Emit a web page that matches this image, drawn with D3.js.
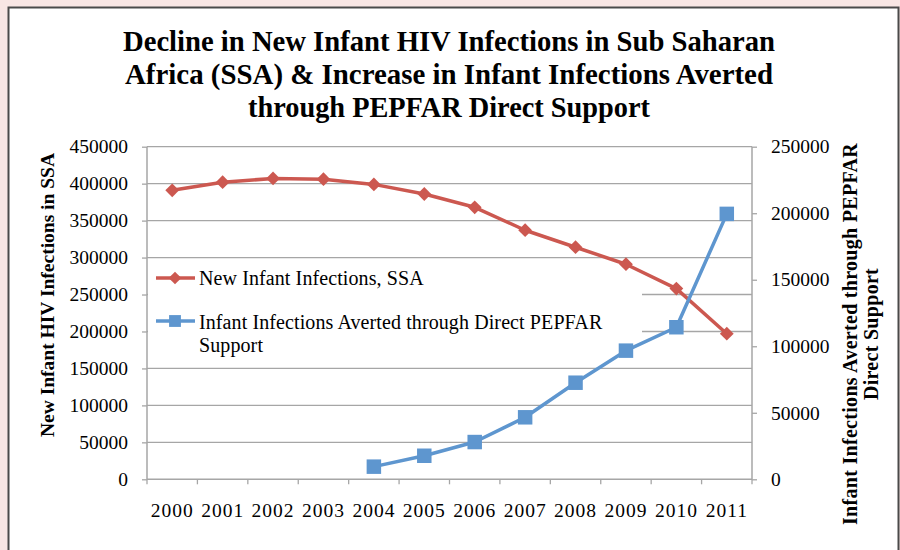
<!DOCTYPE html>
<html>
<head>
<meta charset="utf-8">
<script src="https://cdn.jsdelivr.net/npm/d3@7"></script>
<style>
    body { margin: 0; background: #f8e6e4; }
    svg { display: block; }
    text { font-family: "Liberation Serif", "DejaVu Serif", serif; fill: #000; }
</style>
</head>
<body>
<div id="chart"></div>
<script>
const years = ['2000', '2001', '2002', '2003', '2004', '2005', '2006', '2007', '2008', '2009', '2010', '2011'];
const newInfections = [391000, 402000, 407000, 406000, 399000, 386000, 368000, 337000, 314000, 291000, 258000, 197000];
const avertedYears = ['2004', '2005', '2006', '2007', '2008', '2009', '2010', '2011'];
const averted = [9500, 17700, 28000, 46600, 72600, 96700, 114300, 199500];
const leftTicks = [0, 50000, 100000, 150000, 200000, 250000, 300000, 350000, 400000, 450000];
const rightTicks = [0, 50000, 100000, 150000, 200000, 250000];

const titleLines = [
    'Decline in New Infant HIV Infections in Sub Saharan',
    'Africa (SSA) & Increase in Infant Infections Averted',
    'through PEPFAR Direct Support'
];
const titleWidths = [652, 648, 402];
const seriesNames = ['New Infant Infections, SSA', 'Infant Infections Averted through Direct PEPFAR', 'Support'];

const width = 900;
const height = 550;
const margin = { top: 147, right: 148, bottom: 71, left: 147 };
const red = '#cc5850';
const blue = '#5e96cf';

const svg = d3.select('#chart')
    .append('svg')
    .attr('width', width)
    .attr('height', height);

// frame
svg.append('rect')
    .attr('x', 8).attr('y', 7)
    .attr('width', 891).attr('height', height)
    .attr('fill', '#fff');
svg.append('path')
    .attr('d', `M8.5,${height}V7.5H898.5V${height}`)
    .attr('fill', 'none')
    .attr('stroke', '#4a4a4a')
    .attr('stroke-width', 2);

const x = d3.scaleBand()
    .domain(years)
    .range([margin.left, width - margin.right]);

const yLeft = d3.scaleLinear()
    .domain([0, 450000])
    .range([height - margin.bottom + 0.3, margin.top - 0.3]);

const yRight = d3.scaleLinear()
    .domain([0, 250000])
    .range([height - margin.bottom + 0.3, margin.top - 0.3]);

// gridlines
svg.append('g')
    .selectAll('line')
    .data(leftTicks.slice(1))
    .join('line')
    .attr('x1', margin.left)
    .attr('x2', width - margin.right)
    .attr('y1', d => yLeft(d))
    .attr('y2', d => yLeft(d))
    .attr('stroke', '#a6a6a6')
    .attr('stroke-width', 1.3);

// axes
const axisLeft = svg.append('g')
    .attr('transform', `translate(${margin.left},0)`)
    .call(d3.axisLeft(yLeft).tickValues(leftTicks).tickSize(5).tickPadding(14).tickFormat(d3.format('d')));

const axisRight = svg.append('g')
    .attr('transform', `translate(${width - margin.right},0)`)
    .call(d3.axisRight(yRight).tickValues(rightTicks).tickSize(5).tickPadding(14).tickFormat(d3.format('d')));

const axisBottom = svg.append('g')
    .attr('transform', `translate(0,${yLeft(0)})`)
    .call(d3.axisBottom(x).tickSize(0).tickPadding(24));

// category boundary ticks on the x axis
axisBottom.selectAll('.boundary')
    .data(years.concat(['end']))
    .join('line')
    .attr('class', 'boundary')
    .attr('x1', (d, i) => margin.left + i * x.step())
    .attr('x2', (d, i) => margin.left + i * x.step())
    .attr('y1', 0)
    .attr('y2', 5)
    .attr('stroke', '#a6a6a6')
    .attr('stroke-width', 1.3);

[axisLeft, axisRight, axisBottom].forEach(g => {
    g.select('.domain').attr('stroke', '#a6a6a6').attr('stroke-width', 1.5);
    g.selectAll('.tick line').attr('stroke', '#a6a6a6').attr('stroke-width', 1.3);
    g.selectAll('text').attr('font-family', '"Liberation Serif", serif').attr('font-size', 19.5).attr('fill', '#000');
});
axisRight.select('.domain').attr('d', `M0,${yRight(250000)}V${yRight(0)}`);
axisLeft.select('.domain').attr('d', `M0,${yLeft(450000)}V${yLeft(0)}`);
axisBottom.select('.domain').attr('d', `M${margin.left},0H${width - margin.right}`);
axisBottom.selectAll('text').attr('font-size', 19.5).attr('letter-spacing', 1);

// legend background hides the gridlines behind it
const legend = svg.append('g');
legend.append('rect')
    .attr('x', margin.left + 1)
    .attr('y', 259)
    .attr('width', 494)
    .attr('height', 107)
    .attr('fill', '#fff');

// series
const redLine = d3.line()
    .x((d, i) => x(years[i]) + x.bandwidth() / 2)
    .y(d => yLeft(d));

const blueLine = d3.line()
    .x((d, i) => x(avertedYears[i]) + x.bandwidth() / 2)
    .y(d => yRight(d));

svg.append('path')
    .datum(newInfections)
    .attr('d', redLine)
    .attr('fill', 'none')
    .attr('stroke', red)
    .attr('stroke-width', 3.5)
    .attr('stroke-linejoin', 'round');

svg.append('path')
    .datum(averted)
    .attr('d', blueLine)
    .attr('fill', 'none')
    .attr('stroke', blue)
    .attr('stroke-width', 3.5)
    .attr('stroke-linejoin', 'round');

const diamond = d3.symbol().type(d3.symbolSquare).size(95);
const square = d3.symbol().type(d3.symbolSquare).size(210);

svg.append('g')
    .selectAll('path')
    .data(newInfections)
    .join('path')
    .attr('d', diamond)
    .attr('transform', (d, i) => `translate(${x(years[i]) + x.bandwidth() / 2},${yLeft(d)}) rotate(45)`)
    .attr('fill', red);

svg.append('g')
    .selectAll('path')
    .data(averted)
    .join('path')
    .attr('d', square)
    .attr('transform', (d, i) => `translate(${x(avertedYears[i]) + x.bandwidth() / 2},${yRight(d)})`)
    .attr('fill', blue);

// legend entries
legend.append('line')
    .attr('x1', 156).attr('x2', 195).attr('y1', 278).attr('y2', 278)
    .attr('stroke', red).attr('stroke-width', 3.5);
legend.append('path')
    .attr('d', d3.symbol().type(d3.symbolSquare).size(80))
    .attr('transform', 'translate(175,278) rotate(45)')
    .attr('fill', red);
legend.append('line')
    .attr('x1', 156).attr('x2', 195).attr('y1', 321).attr('y2', 321)
    .attr('stroke', blue).attr('stroke-width', 3.5);
legend.append('path')
    .attr('d', d3.symbol().type(d3.symbolSquare).size(140))
    .attr('transform', 'translate(175,321)')
    .attr('fill', blue);

legend.selectAll('text')
    .data(seriesNames)
    .join('text')
    .attr('x', 199)
    .attr('y', (d, i) => [285, 329, 352][i])
    .attr('font-size', 20)
    .attr('letter-spacing', 0.1)
    .text(d => d);

// title
svg.append('g')
    .selectAll('text')
    .data(titleLines)
    .join('text')
    .attr('x', 449)
    .attr('y', (d, i) => 51 + i * 33)
    .attr('text-anchor', 'middle')
    .attr('font-size', 30)
    .attr('font-weight', 'bold')
    .attr('textLength', (d, i) => titleWidths[i])
    .attr('lengthAdjust', 'spacingAndGlyphs')
    .text(d => d);

// axis titles
svg.append('text')
    .attr('transform', `translate(54,${295}) rotate(-90)`)
    .attr('text-anchor', 'middle')
    .attr('font-size', 19.5)
    .attr('font-weight', 'bold')
    .text('New Infant HIV Infections in SSA');

svg.append('text')
    .attr('transform', `translate(857,${334}) rotate(-90)`)
    .attr('text-anchor', 'middle')
    .attr('font-size', 20)
    .attr('font-weight', 'bold')
    .attr('letter-spacing', 0.3)
    .text('Infant Infections Averted through PEPFAR');

svg.append('text')
    .attr('transform', `translate(878,${334}) rotate(-90)`)
    .attr('text-anchor', 'middle')
    .attr('font-size', 20)
    .attr('font-weight', 'bold')
    .attr('letter-spacing', 0.3)
    .text('Direct Support');
</script>
</body>
</html>
